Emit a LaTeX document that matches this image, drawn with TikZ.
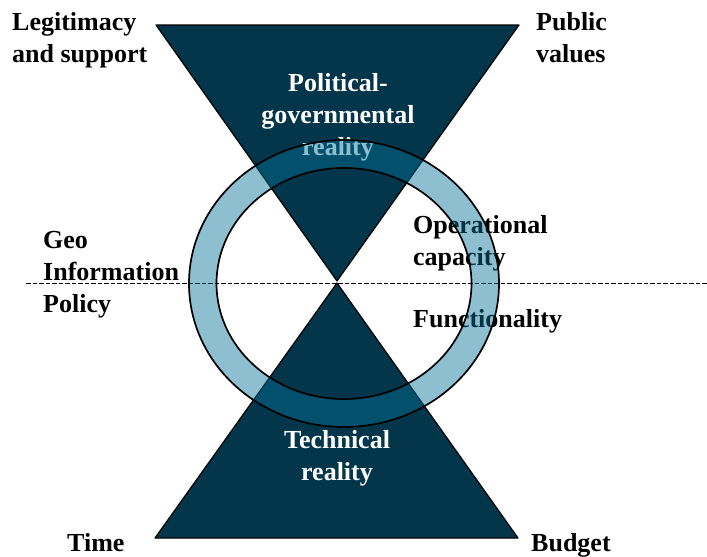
\documentclass[tikz,border=0pt]{standalone}
\usepackage{fontspec}
\setmainfont{Liberation Serif}
\definecolor{navy}{RGB}{3,54,74}
\definecolor{ringblue}{RGB}{2,113,151}
\begin{document}
\begin{tikzpicture}[x=1pt,y=-1pt,
  lbl/.style={font=\bfseries\fontsize{26}{32}\selectfont, inner sep=0pt, anchor=north west, align=left},
  wlbl/.style={lbl, text=white, align=center, anchor=north},
  tri/.style={fill=navy, draw=black, line width=1.2pt, line join=round},
  ringedge/.style={draw=black, line width=1.7pt}]
\useasboundingbox (0,0) rectangle (707,557);
% triangles
\coordinate (tl) at (156,25);
\coordinate (tr) at (519,25);
\coordinate (ta) at (337,281);
\coordinate (ba) at (337,283);
\coordinate (bl) at (155,538);
\coordinate (br) at (518,538);
\path[tri] (tl) -- (tr) -- (ta) -- cycle;
\path[tri] (ba) -- (br) -- (bl) -- cycle;
% dashed line
\coordinate (dl) at (26,283.5);
\coordinate (dr) at (707,283.5);
\draw[line width=1.4pt, dash pattern=on 4.5pt off 2pt] (dl) -- (dr);
% labels
\node[lbl] (legit) at (12,7.6) {\strut Legitimacy\\\strut and support};
\node[lbl] (public) at (536,7.6) {\strut Public\\\strut values};
\node[wlbl] (polit) at (338,68.6) {\strut Political-\\\strut governmental\\\strut reality};
\node[lbl] (geo) at (43,225.6) {\strut Geo\\\strut Information\\\strut Policy};
\node[lbl] (oper) at (413,210.6) {\strut Operational\\\strut capacity};
\node[lbl] (func) at (413,304.6) {\strut Functionality};
\node[wlbl] (tech) at (337,425.6) {\strut Technical\\\strut reality};
\node[lbl] (time) at (67,528.6) {\strut Time};
\node[lbl] (budget) at (531,528.6) {\strut Budget};
% ring
\coordinate (rc) at (344,283.5);
\path[fill=ringblue, fill opacity=0.45, even odd rule]
  (rc) ellipse [x radius=155pt, y radius=143.5pt]
  (rc) ellipse [x radius=127.5pt, y radius=115.5pt];
\draw[ringedge] (rc) ellipse [x radius=155pt, y radius=143.5pt];
\draw[ringedge] (rc) ellipse [x radius=127.5pt, y radius=115.5pt];
\end{tikzpicture}
\end{document}
